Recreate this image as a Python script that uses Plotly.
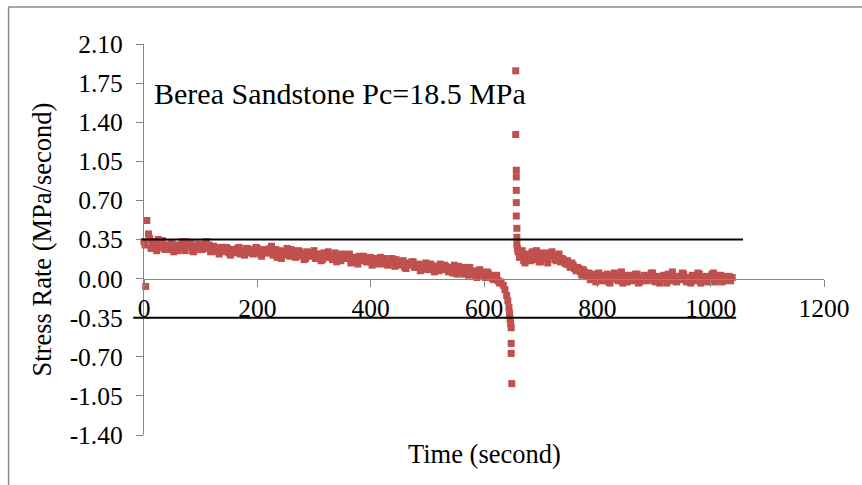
import plotly.graph_objects as go

# Stress-rate record for Berea sandstone at 18.5 MPa confining pressure
time_s = [
    0, 2, 3, 5, 8, 10, 15, 20, 25, 30, 35, 40, 45, 50, 55, 60, 65, 70, 75, 80,
    85, 90, 95, 100, 105, 110, 115, 120, 125, 130, 135, 140, 145, 150, 155, 160,
    165, 170, 175, 180, 185, 190, 195, 200, 205, 210, 215, 220, 225, 230, 235,
    240, 245, 250, 255, 260, 265, 270, 275, 280, 285, 290, 295, 300, 305, 310,
    315, 320, 325, 330, 335, 340, 345, 350, 355, 360, 365, 370, 375, 380, 385,
    390, 395, 400, 405, 410, 415, 420, 425, 430, 435, 440, 445, 450, 455, 460,
    465, 470, 475, 480, 485, 490, 495, 500, 505, 510, 515, 520, 525, 530, 535,
    540, 545, 550, 555, 560, 565, 570, 575, 580, 585, 590, 595, 600, 605, 610,
    615, 620, 625, 630, 634, 637, 640, 642, 644, 645, 646, 647, 648, 648, 648,
    649,
    656, 656, 657, 657, 657, 657, 657, 658, 658, 658, 659,
    660, 665, 670, 675, 680, 685, 690, 695, 700, 705, 710, 715, 720, 725, 730,
    735, 740, 745, 750, 755, 760, 765, 770, 775, 780, 785, 790, 795, 800, 805,
    810, 815, 820, 825, 830, 835, 840, 845, 850, 855, 860, 865, 870, 875, 880,
    885, 890, 895, 900, 905, 910, 915, 920, 925, 930, 935, 940, 945, 950, 955,
    960, 965, 970, 975, 980, 985, 990, 995, 1000, 1005, 1010, 1015, 1020, 1025,
    1030, 1035, 1038,
]

stress_rate = [
    0.33, 0.30, -0.07, 0.52, 0.40, 0.36, 0.31, 0.28, 0.35, 0.32, 0.27, 0.30,
    0.26, 0.31, 0.28, 0.25, 0.30, 0.27, 0.33, 0.29, 0.25, 0.28, 0.31, 0.26,
    0.29, 0.33, 0.30, 0.26, 0.28, 0.24, 0.27, 0.25, 0.28, 0.23, 0.26, 0.24,
    0.27, 0.22, 0.25, 0.27, 0.23, 0.26, 0.24, 0.27, 0.22, 0.25, 0.23, 0.26,
    0.29, 0.24, 0.19, 0.25, 0.22, 0.24, 0.21, 0.26, 0.23, 0.20, 0.24, 0.22,
    0.18, 0.23, 0.21, 0.25, 0.20, 0.22, 0.17, 0.21, 0.24, 0.19, 0.21, 0.15,
    0.20, 0.22, 0.18, 0.20, 0.14, 0.19, 0.17, 0.20, 0.16, 0.18, 0.15, 0.19,
    0.16, 0.13, 0.17, 0.15, 0.18, 0.12, 0.16, 0.14, 0.17, 0.13, 0.15, 0.10,
    0.14, 0.12, 0.15, 0.11, 0.13, 0.08, 0.12, 0.10, 0.13, 0.09, 0.11, 0.07,
    0.10, 0.12, 0.08, 0.10, 0.05, 0.09, 0.11, 0.07, 0.04, 0.08, 0.10, 0.06,
    0.03, 0.07, 0.05, 0.02, 0.06, 0.03, 0.00, 0.02, -0.02, -0.03, -0.06, -0.10,
    -0.15, -0.20, -0.26, -0.31, -0.36, -0.40, -0.44, -0.58, -0.67, -0.94,
    1.86, 1.29, 0.97, 0.91, 0.79, 0.68, 0.56, 0.45, 0.37, 0.31, 0.27,
    0.24, 0.20, 0.16, 0.22, 0.19, 0.24, 0.17, 0.21, 0.15, 0.23, 0.19, 0.21,
    0.24, 0.17, 0.20, 0.15, 0.17, 0.13, 0.12, 0.14, 0.09, 0.10, 0.06, 0.08,
    0.04, 0.05, 0.01, 0.04, 0.00, 0.03, -0.02, 0.01, -0.03, 0.02, 0.05, -0.01,
    0.02, -0.04, 0.01, 0.03, -0.02, 0.00, 0.04, -0.03, 0.01, -0.01, 0.02, 0.05,
    -0.02, 0.01, -0.04, 0.02, 0.00, 0.04, -0.02, 0.01, -0.03, 0.02, 0.05, -0.01,
    0.01, -0.04, 0.02, 0.00, 0.04, -0.02, 0.01, -0.03, 0.02, 0.05, -0.01, 0.01,
    -0.03, 0.02, 0.00, -0.02, 0.01,
]

# Intermediate samples logged between the 5-second readings
time_mid_s = [
    12.5, 17.5, 22.5, 27.5, 32.5, 37.5, 42.5, 47.5, 52.5, 57.5, 62.5, 67.5,
    72.5, 77.5, 82.5, 87.5, 92.5, 97.5, 102.5, 107.5, 112.5, 117.5,
    122.5, 127.5, 132.5, 137.5, 142.5, 147.5, 152.5, 157.5, 162.5, 167.5,
    172.5, 177.5, 182.5, 187.5, 192.5, 197.5, 202.5, 207.5, 212.5, 217.5,
    222.5, 227.5,
    232.5, 237.5, 242.5, 247.5, 252.5, 257.5, 262.5, 267.5, 272.5, 277.5,
    282.5, 287.5, 292.5, 297.5, 302.5, 307.5, 312.5, 317.5, 322.5, 327.5,
    332.5, 337.5, 342.5, 347.5, 352.5, 357.5, 362.5, 367.5, 372.5, 377.5,
    382.5, 387.5, 392.5, 397.5, 402.5, 407.5, 412.5, 417.5, 422.5, 427.5,
    432.5, 437.5, 442.5, 447.5, 452.5, 457.5, 462.5, 467.5, 472.5, 477.5,
    482.5, 487.5, 492.5, 497.5, 502.5, 507.5, 512.5, 517.5, 522.5, 527.5,
    532.5, 537.5, 542.5, 547.5, 552.5, 557.5, 562.5, 567.5, 572.5, 577.5,
    582.5, 587.5, 592.5, 597.5, 602.5, 607.5, 612.5, 617.5, 622.5, 627.5,
    662.5, 667.5, 672.5, 677.5, 682.5, 687.5, 692.5, 697.5, 702.5, 707.5,
    712.5, 717.5, 722.5, 727.5,
    732.5, 737.5, 742.5, 747.5, 752.5, 757.5, 762.5, 767.5, 772.5, 777.5,
    782.5, 787.5,
    792.5, 797.5, 802.5, 807.5, 812.5, 817.5, 822.5, 827.5, 832.5, 837.5,
    842.5, 847.5, 852.5, 857.5, 862.5, 867.5, 872.5, 877.5, 882.5, 887.5,
    892.5, 897.5, 902.5, 907.5, 912.5, 917.5, 922.5, 927.5, 932.5, 937.5,
    942.5, 947.5, 952.5, 957.5, 962.5, 967.5, 972.5, 977.5, 982.5, 987.5,
    992.5, 997.5, 1002.5, 1007.5, 1012.5, 1017.5, 1022.5, 1027.5, 1032.5,
]

stress_rate_mid = [
    0.27, 0.33, 0.25, 0.29, 0.34, 0.26, 0.28, 0.32, 0.24, 0.30, 0.27, 0.33,
    0.25, 0.29, 0.32, 0.24, 0.28, 0.30, 0.26, 0.31, 0.27, 0.24,
    0.29, 0.26, 0.22, 0.28, 0.24, 0.27, 0.21, 0.26, 0.23, 0.28, 0.24, 0.21,
    0.27, 0.25, 0.22, 0.28, 0.24, 0.20, 0.26, 0.23, 0.27, 0.21,
    0.26, 0.22, 0.18, 0.24, 0.27, 0.20, 0.23, 0.19, 0.25, 0.21, 0.17, 0.24,
    0.20, 0.23, 0.18, 0.22, 0.16, 0.23, 0.19, 0.21,
    0.17, 0.23, 0.19, 0.16, 0.21, 0.18, 0.22, 0.15, 0.19, 0.13, 0.18, 0.20,
    0.15, 0.17, 0.12, 0.18, 0.14, 0.19, 0.13, 0.16,
    0.14, 0.18, 0.11, 0.15, 0.12, 0.16, 0.09, 0.13, 0.15, 0.10, 0.12, 0.07,
    0.11, 0.14, 0.08, 0.12, 0.06, 0.10, 0.13, 0.08,
    0.11, 0.06, 0.09, 0.12, 0.04, 0.08, 0.06, 0.10, 0.03, 0.07, 0.05, 0.01,
    0.08, 0.04, 0.01, 0.05, 0.02, -0.01, 0.03, -0.04,
    0.19, 0.25, 0.14, 0.21, 0.16, 0.20, 0.25, 0.15, 0.22, 0.18, 0.14, 0.23,
    0.20, 0.16,
    0.22, 0.18, 0.14, 0.16, 0.10, 0.12, 0.07, 0.09, 0.03, 0.06, 0.02, -0.01,
    0.03, -0.03, 0.05, -0.01, 0.02, 0.04, -0.04, 0.00, 0.03, -0.02, 0.06, 0.01,
    -0.03, 0.02, -0.01, 0.04, -0.04, 0.01, 0.03, -0.02, 0.00, 0.05, -0.03, 0.02,
    -0.01, 0.03, -0.04, 0.01, 0.06, -0.02, 0.02, -0.01, 0.04, -0.03, 0.00, 0.03,
    -0.02, 0.05, -0.04, 0.01, 0.02, -0.01, 0.04, -0.03, 0.01, 0.03, -0.02, 0.00,
    0.02,
]

x_ticks = [0, 200, 400, 600, 800, 1000, 1200]
y_ticks = [-1.40, -1.05, -0.70, -0.35, 0.00, 0.35, 0.70, 1.05, 1.40, 1.75, 2.10]

# Reference stress-rate levels and the time span each line covers
ref_levels = [0.35, -0.35]
ref_spans = [(-4, 1057), (-19, 1045)]

X_RANGE = [0, 1200]
Y_RANGE = [-1.40, 2.10]

FONT = "Liberation Serif, Times New Roman, serif"
AXIS_GREY = "#868686"
MARKER_RED = "#C0504D"

W, H = 862, 485
M_L, M_R, M_T, M_B = 144, 35, 44, 50
plot_w = W - M_L - M_R
plot_h = H - M_T - M_B

fig = go.Figure()
fig.add_trace(go.Scatter(
    x=time_s + time_mid_s, y=stress_rate + stress_rate_mid, mode="markers",
    marker=dict(symbol="square", size=7, color=MARKER_RED,
                line=dict(width=0)),
    showlegend=False, cliponaxis=False,
))

# x axis crosses the y axis at zero
x_axis_pos = (0 - Y_RANGE[0]) / (Y_RANGE[1] - Y_RANGE[0])

shapes = []
for level, (t0, t1) in zip(ref_levels, ref_spans):
    shapes.append(dict(
        type="line", xref="paper", yref="y",
        x0=(t0 - X_RANGE[0]) / (X_RANGE[1] - X_RANGE[0]),
        x1=(t1 - X_RANGE[0]) / (X_RANGE[1] - X_RANGE[0]),
        y0=level, y1=level,
        line=dict(color="black", width=2), layer="above",
    ))

# chart frame
shapes.append(dict(
    type="rect", xref="paper", yref="paper",
    x0=(8 - M_L) / plot_w, x1=(W + 10 - M_L) / plot_w,
    y0=(H - M_B - (H + 10)) / plot_h, y1=(H - M_B - 7) / plot_h,
    line=dict(color="#8C8C8C", width=1.5), fillcolor="rgba(0,0,0,0)",
    layer="below",
))

fig.update_layout(
    width=W, height=H,
    margin=dict(l=M_L, r=M_R, t=M_T, b=M_B, pad=0),
    paper_bgcolor="white", plot_bgcolor="white",
    font=dict(family=FONT, color="black"),
    shapes=shapes,
    xaxis=dict(
        range=X_RANGE, anchor="free", position=x_axis_pos,
        showline=True, linecolor=AXIS_GREY, linewidth=1.3,
        ticks="outside", ticklen=7, tickcolor=AXIS_GREY, tickwidth=1.3,
        tickmode="array", tickvals=x_ticks,
        ticktext=[str(v) for v in x_ticks],
        tickfont=dict(family=FONT, size=25.5, color="black"),
        showgrid=False, zeroline=False,
    ),
    yaxis=dict(
        range=Y_RANGE,
        showline=True, linecolor=AXIS_GREY, linewidth=1.3,
        ticks="outside", ticklen=7, tickcolor=AXIS_GREY, tickwidth=1.3,
        tickmode="array", tickvals=y_ticks,
        ticktext=[f"{v:.2f}" for v in y_ticks],
        tickfont=dict(family=FONT, size=25.5, color="black"),
        ticklabelstandoff=8,
        showgrid=False, zeroline=False,
        title=dict(text="Stress Rate (MPa/second)", standoff=10,
                   font=dict(family=FONT, size=26.5, color="black")),
    ),
    annotations=[
        dict(text="Time (second)", xref="paper", yref="paper",
             x=0.5, y=(H - M_B - 454) / plot_h, xanchor="center",
             yanchor="middle", showarrow=False,
             font=dict(family=FONT, size=26.5, color="black")),
        dict(text="Berea Sandstone Pc=18.5 MPa", xref="paper", yref="paper",
             x=(152 - M_L) / plot_w, y=(H - M_B - 93) / plot_h,
             xanchor="left", yanchor="middle", showarrow=False,
             font=dict(family=FONT, size=30, color="black")),
    ],
)

fig.write_html("out.html")
